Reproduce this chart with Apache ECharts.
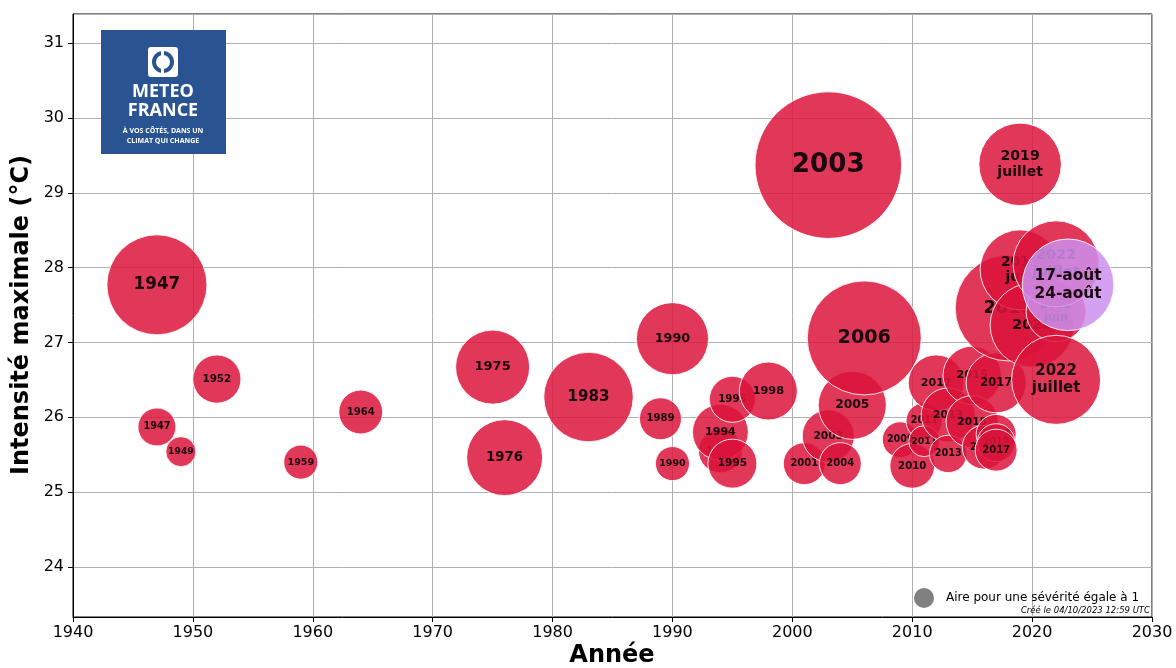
<!DOCTYPE html>
<html>
<head>
<meta charset="utf-8">
<title>Vagues de chaleur</title>
<script src="https://cdn.jsdelivr.net/npm/echarts@6/dist/echarts.min.js"></script>
<style>
  html, body { margin: 0; padding: 0; background: #fff; }
  #chart { width: 1176px; height: 668px; }
</style>
</head>
<body>
<div id="chart"></div>
<script>
// données (ordre de tracé = ordre chronologique)
var years = [1947, 1947, 1949, 1952, 1959, 1964, 1975, 1976, 1983, 1989,
  1990, 1990, 1994, 1994, 1995, 1995, 1998, 2001, 2003, 2003,
  2004, 2005, 2006, 2009, 2010, 2011, 2011, 2012, 2013, 2013,
  2015, 2015, 2016, 2017, 2017, 2017, 2017, 2018, 2019, 2019,
  2020, 2022, 2022, 2022, 2023];
var intensites = [25.87, 27.77, 25.54, 26.51, 25.40, 26.07, 26.67, 25.46, 26.27, 25.98,
  27.05, 25.38, 25.55, 25.80, 26.24, 25.38, 26.35, 25.38, 29.37, 25.75,
  25.38, 26.16, 27.06, 25.70, 25.35, 25.95, 25.68, 26.46, 26.03, 25.51,
  26.56, 25.94, 25.60, 26.46, 25.77, 25.66, 25.56, 27.46, 27.97, 29.38,
  27.23, 27.41, 28.05, 26.50, 27.77];
var severites = [3.6, 25, 2.25, 5.8, 2.9, 4.8, 13.7, 14.4, 20, 4.4,
  13, 2.9, 4.8, 7.8, 5.3, 6, 8.4, 4.4, 53.7, 6.8,
  4.4, 11.6, 32.5, 3.2, 5, 3.3, 2.4, 7.8, 7.3, 3.5,
  8.5, 6.8, 4.8, 9, 4, 3.6, 4.4, 28, 16, 17,
  17.6, 9, 18.5, 19.8, 21];
var etiquettes = ['1947', '1947', '1949', '1952', '1959', '1964', '1975', '1976', '1983', '1989',
  '1990', '1990', '1994', '1994', '1995', '1995', '1998', '2001', '2003', '2003',
  '2004', '2005', '2006', '2009', '2010', '2011', '2011', '2012', '2013', '2013',
  '2015', '2015', '2016', '2017', '2017', '2017', '2017', '2018', '2019\njuin', '2019\njuillet',
  '2020', '2022\njuin', '2022\njuillet', '2022\njuillet', '17-août\n24-août'];
var enCours = [false, false, false, false, false, false, false, false, false, false,
  false, false, false, false, false, false, false, false, false, false,
  false, false, false, false, false, false, false, false, false, false,
  false, false, false, false, false, false, false, false, false, false,
  false, false, false, false, true];

var xTicks = [1940, 1950, 1960, 1970, 1980, 1990, 2000, 2010, 2020, 2030];
var yTicks = [24, 25, 26, 27, 28, 29, 30, 31];

var FONT = 'DejaVu Sans';
var RAYON_UNITE = 10; // rayon (px) d'une bulle de sévérité 1

var myChart = echarts.init(document.getElementById('chart'));

var donnees = years.map(function (y, i) {
  return [y, intensites[i], severites[i], i];
});

var option = {
  animation: false,
  grid: { left: 73, right: 24, top: 14, bottom: 51, show: true, borderColor: '#000', borderWidth: 1 },
  xAxis: {
    type: 'value', min: xTicks[0], max: xTicks[xTicks.length - 1], interval: 10,
    axisLine: { lineStyle: { color: '#000' } },
    axisTick: { show: true, length: 5, lineStyle: { color: '#000' } },
    axisLabel: { color: '#000', fontSize: 16, fontFamily: FONT, margin: 8,
      formatter: function (v) { return String(v); } },
    splitLine: { show: true, lineStyle: { color: '#b0b0b0', width: 1 } }
  },
  yAxis: {
    type: 'value', min: 23.33, max: 31.39, splitNumber: 8,
    axisLine: { show: true, lineStyle: { color: '#000' } },
    axisTick: { show: true, length: 5, lineStyle: { color: '#000' } },
    axisLabel: {
      color: '#000', fontSize: 16, fontFamily: FONT, margin: 9,
      showMinLabel: false, showMaxLabel: false,
      formatter: function (v) { return yTicks.indexOf(v) >= 0 ? String(v) : ''; }
    },
    splitLine: { show: true, lineStyle: { color: '#b0b0b0', width: 1 } }
  },
  series: [{
    type: 'custom',
    data: donnees,
    clip: true,
    renderItem: function (params, api) {
      var p = api.coord([api.value(0), api.value(1)]);
      var s = api.value(2);
      var i = api.value(3);
      var r = RAYON_UNITE * Math.sqrt(s);
      var fs = 8.5 + 0.33 * s;
      return {
        type: 'group',
        children: [{
          type: 'circle',
          z2: i * 2,
          shape: { cx: p[0], cy: p[1], r: r },
          style: {
            fill: enCours[i] ? 'rgba(205,145,240,0.85)' : 'rgba(220,20,60,0.85)',
            stroke: 'rgba(255,255,255,0.85)', lineWidth: 1
          }
        }, {
          type: 'text',
          z2: i * 2 + 1,
          x: p[0], y: p[1],
          style: {
            text: etiquettes[i],
            fill: '#1a0a0f',
            font: 'bold ' + fs.toFixed(1) + 'px "' + FONT + '"',
            align: 'center', verticalAlign: 'middle', lineHeight: fs * 1.15
          }
        }]
      };
    }
  }],
  graphic: [
    // logo Météo-France
    { type: 'rect', left: 101, top: 30, shape: { width: 125, height: 124 }, style: { fill: '#2a5391' }, z: 10 },
    { type: 'rect', left: 148, top: 47, shape: { width: 30, height: 30, r: 3 }, style: { fill: '#fff' }, z: 11 },
    { type: 'circle', shape: { cx: 163, cy: 62, r: 11 }, style: { fill: '#2a5391' }, z: 12 },
    { type: 'circle', shape: { cx: 163, cy: 62, r: 7 }, style: { fill: '#fff' }, z: 13 },
    { type: 'rect', shape: { x: 161, y: 48, width: 3, height: 28 }, style: { fill: '#fff' }, z: 14 },
    { type: 'text', x: 163, y: 92, style: { text: 'METEO', fill: '#fff', font: 'bold 18px "Open Sans"', align: 'center', verticalAlign: 'middle' }, z: 15 },
    { type: 'text', x: 163, y: 111, style: { text: 'FRANCE', fill: '#fff', font: 'bold 18px "Open Sans"', align: 'center', verticalAlign: 'middle' }, z: 15 },
    { type: 'text', x: 163, y: 131, style: { text: 'À VOS CÔTÉS, DANS UN', fill: '#fff', font: 'bold 7px "Open Sans"', align: 'center', verticalAlign: 'middle' }, z: 15 },
    { type: 'text', x: 163, y: 141, style: { text: 'CLIMAT QUI CHANGE', fill: '#fff', font: 'bold 7px "Open Sans"', align: 'center', verticalAlign: 'middle' }, z: 15 },
    // légende
    { type: 'circle', shape: { cx: 924, cy: 598, r: RAYON_UNITE }, style: { fill: '#808080' }, z: 10 },
    { type: 'text', x: 946, y: 598, style: { text: 'Aire pour une sévérité égale à 1', fill: '#000', font: '12px "' + FONT + '"', align: 'left', verticalAlign: 'middle' }, z: 10 },
    { type: 'text', x: 1150, y: 611, style: { text: 'Créé le 04/10/2023 12:59 UTC', fill: '#000', font: 'italic 8.5px "' + FONT + '"', align: 'right', verticalAlign: 'middle' }, z: 10 },
    // titres des axes
    { type: 'text', x: 612, y: 656, style: { text: 'Année', fill: '#000', font: 'bold 24px "' + FONT + '"', align: 'center', verticalAlign: 'middle' }, z: 10 },
    { type: 'text', x: 22, y: 315, rotation: Math.PI / 2, style: { text: 'Intensité maximale (°C)', fill: '#000', font: 'bold 24px "' + FONT + '"', align: 'center', verticalAlign: 'middle' }, z: 10 }
  ]
};

myChart.setOption(option);
</script>
</body>
</html>
